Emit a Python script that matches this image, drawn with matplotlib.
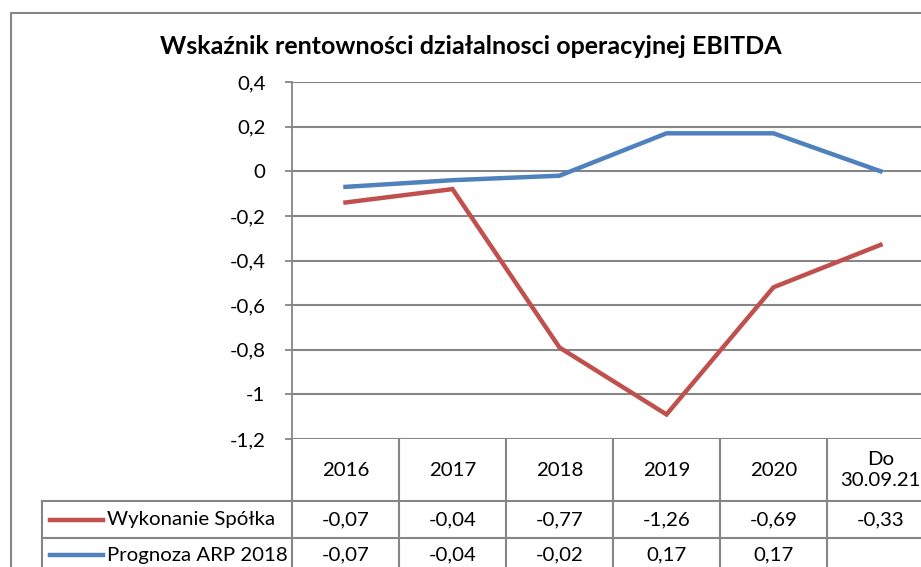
import matplotlib
matplotlib.use("Agg")
import matplotlib.pyplot as plt
from matplotlib.lines import Line2D
import numpy as np

plt.rcParams["font.family"] = ["Lato", "DejaVu Sans"]

TITLE = "Wskaźnik rentowności działalnosci operacyjnej EBITDA"
CATEGORIES = ["2016", "2017", "2018", "2019", "2020", "Do\n30.09.21"]
SERIES_NAMES = ["Wykonanie Spółka", "Prognoza ARP 2018"]
# values as drawn on the chart
RED_LINE = [-0.14, -0.08, -0.79, -1.09, -0.52, -0.33]
BLUE_LINE = [-0.07, -0.04, -0.02, 0.17, 0.17, 0.0]
# values printed in the data table
RED_TABLE = ["-0,07", "-0,04", "-0,77", "-1,26", "-0,69", "-0,33"]
BLUE_TABLE = ["-0,07", "-0,04", "-0,02", "0,17", "0,17", ""]
YTICKS = [0.4, 0.2, 0, -0.2, -0.4, -0.6, -0.8, -1, -1.2]

RED = "#C0504D"
BLUE = "#4F81BD"
GRID = "#868686"
FS = 14.7

W, H = 921, 567
fig = plt.figure(figsize=(W / 100, H / 100), dpi=100)


def fx(px):
    return px / W


def fy(py):
    return (H - py) / H


# plot area: x 292 -> 934 (cropped at the right), y 82 -> 439
left, right, top, bottom = 292, 934, 82, 439
ax = fig.add_axes([fx(left), fy(bottom), fx(right - left), (bottom - top) / H])
ax.set_xlim(-0.5, len(CATEGORIES) - 0.5)
ax.set_ylim(-1.2, 0.4)
for s in ax.spines.values():
    s.set_visible(False)
ax.spines["left"].set_visible(True)
ax.spines["left"].set_color(GRID)
ax.spines["left"].set_linewidth(1.3)

ax.set_yticks(YTICKS)
ax.set_yticklabels([f"{v:g}".replace(".", ",") for v in YTICKS], fontsize=FS)
ax.tick_params(axis="y", length=5, width=1.3, color=GRID, pad=14)
ax.set_xticks([])
for v in YTICKS:
    ax.axhline(v, color=GRID, lw=1.5, zorder=1)

x = np.arange(len(CATEGORIES))
ax.plot(x, RED_LINE, color=RED, lw=3.2, solid_joinstyle="miter", zorder=3)
ax.plot(x, BLUE_LINE, color=BLUE, lw=3.2, solid_joinstyle="miter", zorder=3)

# data table below the plot
row_lines = [439, 501, 538, 567]   # header, row 1, row 2 (cut off at bottom)
trans = ax.get_xaxis_transform()
ax_h = bottom - top


def ay(py):
    return (bottom - py) / ax_h


for i in range(len(CATEGORIES) + 1):
    ax.add_line(Line2D([i - 0.5, i - 0.5], [ay(439), ay(567)], transform=trans,
                       color=GRID, lw=1.5, clip_on=False))
for py in row_lines[1:3]:
    fig.add_artist(Line2D([fx(42), fx(right)], [fy(py), fy(py)], color=GRID, lw=1.5))
fig.add_artist(Line2D([fx(42), fx(42)], [fy(501), fy(567)], color=GRID, lw=1.5))

for i, c in enumerate(CATEGORIES):
    ax.text(i, ay(470), c, transform=trans, ha="center", va="center",
            fontsize=FS, linespacing=1.3, clip_on=False)
    ax.text(i, ay(520), RED_TABLE[i], transform=trans, ha="center", va="center",
            fontsize=FS, clip_on=False)
    ax.text(i, ay(555), BLUE_TABLE[i], transform=trans, ha="center", va="center",
            fontsize=FS, clip_on=False)

for name, col, py in [(SERIES_NAMES[0], RED, 520), (SERIES_NAMES[1], BLUE, 555)]:
    fig.add_artist(Line2D([fx(50), fx(103)], [fy(py), fy(py)], color=col, lw=3.2))
    fig.text(fx(107), fy(py), name, ha="left", va="center", fontsize=FS)

fig.text(fx(471), fy(47), TITLE, ha="center", va="center", fontsize=18, fontweight="bold")

# chart area border (cropped on the right and bottom)
fig.add_artist(Line2D([fx(11), fx(11), fx(W + 5)], [fy(H + 5), fy(13), fy(13)],
                      color=GRID, lw=1.5))

fig.savefig("out.png", dpi=100)
